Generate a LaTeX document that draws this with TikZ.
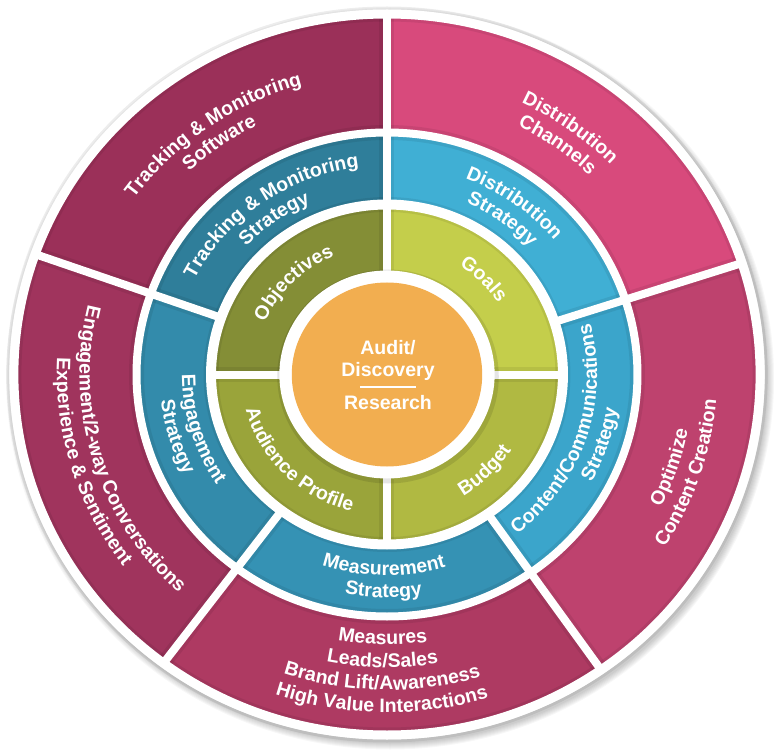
\documentclass[tikz,border=0pt]{standalone}
\usepackage{fontspec}
\setmainfont{Liberation Sans}
\usetikzlibrary{decorations.text}
\definecolor{softseg}{HTML}{9B3059}
\definecolor{chanseg}{HTML}{D84A7C}
\definecolor{optseg}{HTML}{BE426E}
\definecolor{measseg}{HTML}{AE3A62}
\definecolor{convseg}{HTML}{A0345D}
\definecolor{trackseg}{HTML}{2F7E9A}
\definecolor{distseg}{HTML}{40AFD4}
\definecolor{contseg}{HTML}{3BA5CB}
\definecolor{mstrseg}{HTML}{3592B4}
\definecolor{engseg}{HTML}{338BAB}
\definecolor{objseg}{HTML}{848E36}
\definecolor{goalseg}{HTML}{C4CE4B}
\definecolor{budgseg}{HTML}{B0B942}
\definecolor{audseg}{HTML}{9AA43A}
\definecolor{auditcol}{HTML}{F2AE50}
\newcommand{\lblfont}{\fontsize{19.5}{22}\selectfont\bfseries}
\tikzset{
  gapline/.style    = {white, line width=8pt},
  gapshade/.style   = {black, opacity=0.07, line width=15pt},
  ringtext/.style   = {decorate, decoration={text along path, text align=center,
                       text color=white, text={|\lblfont|#1}}},
  centertext/.style = {text=white, font=\lblfont, align=center, inner sep=0pt},
}
% sector of a ring: colour, inner r, outer r, start angle, end angle
\newcommand{\ringseg}[5]{%
  \fill[#1] (#4:#2) arc[start angle=#4, end angle=#5, radius=#2]
    -- (#5:#3) arc[start angle=#5, end angle=#4, radius=#3] -- cycle;}
% one line of text on an arc: radius, start angle, end angle, text
\newcommand{\arctext}[4]{%
  \path[ringtext={#4}] (#2:#1) arc[start angle=#2, end angle=#3, radius=#1];}

\begin{document}
\begin{tikzpicture}[x=1pt, y=1pt]
  \useasboundingbox (-387,-380.5) rectangle (387,374.5);
  \begin{scope}[xscale=1.035]
    % --- disc and shadow ---
    \foreach \i in {0,...,6}
      \fill[black, opacity=0.03] (3,-4) circle (365+\i);
    \fill[white] (0,0) circle (365);

    % --- outer ring ---
    \ringseg{softseg}{242}{360}{90}{160.5}
    \ringseg{chanseg}{242}{360}{18}{90}
    \ringseg{optseg}{242}{360}{-55}{18}
    \ringseg{measseg}{242}{360}{-126.8}{-55}
    \ringseg{convseg}{242}{360}{160.5}{233.2}

    % --- strategy ring ---
    \ringseg{trackseg}{170}{242}{90}{160.5}
    \ringseg{distseg}{170}{242}{18}{90}
    \ringseg{contseg}{170}{242}{-55}{18}
    \ringseg{mstrseg}{170}{242}{-126.8}{-55}
    \ringseg{engseg}{170}{242}{160.5}{233.2}

    % --- planning ring ---
    \ringseg{objseg}{100}{170}{90}{180}
    \ringseg{goalseg}{100}{170}{0}{90}
    \ringseg{budgseg}{100}{170}{-90}{0}
    \ringseg{audseg}{100}{170}{180}{270}

    % --- shaded white gaps ---
    \foreach \r in {360.5, 242, 170}
      \draw[gapshade] (0,0) circle (\r);
    \foreach \a in {90,18,-55,-126.8,160.5}
      \draw[gapshade] (\a:170) -- (\a:362);
    \foreach \a in {0,90,180,270}
      \draw[gapshade] (\a:98) -- (\a:170);
    \foreach \r/\w in {360.5/9, 242/8, 170/10}
      \draw[white, line width=\w pt] (0,0) circle (\r);
    \foreach \a in {90,18,-55,-126.8,160.5}
      \draw[gapline] (\a:170) -- (\a:362);
    \foreach \a in {0,90,180,270}
      \draw[gapline] (\a:98) -- (\a:170);

    % --- centre ---
    \fill[black, opacity=0.1] (1,-2) circle (107);
    \fill[white] (0,0) circle (104);
    \fill[auditcol] (0,0) circle (92);

    % --- outer ring labels ---
    \arctext{301}{160.5}{90}{Tracking {\&} Monitoring}
    \arctext{279}{160.5}{90}{Software}
    \arctext{301}{90}{18}{Distribution}
    \arctext{279}{90}{18}{Channels}
    \arctext{296}{-55}{18}{Optimize}
    \arctext{319}{-55}{18}{Content Creation}
    \arctext{270}{-126.8}{-55}{Measures}
    \arctext{293}{-126.8}{-55}{Leads/Sales}
    \arctext{315.5}{-126.8}{-55}{Brand Lift/Awareness}
    \arctext{338}{-126.8}{-55}{High Value Interactions}
    \arctext{297}{160.5}{233.2}{Engagement/2-way Conversations}
    \arctext{319}{160.5}{233.2}{Experience {\&} Sentiment}

    % --- strategy ring labels ---
    \arctext{209}{160.5}{90}{Tracking {\&} Monitoring}
    \arctext{187}{160.5}{90}{Strategy}
    \arctext{210}{90}{18}{Distribution}
    \arctext{188}{90}{18}{Strategy}
    \arctext{203}{-55}{18}{Content/Communications}
    \arctext{225}{-55}{18}{Strategy}
    \arctext{201}{-126.8}{-55}{Measurement}
    \arctext{223}{-126.8}{-55}{Strategy}
    \arctext{198}{160.5}{233.2}{Engagement}
    \arctext{220}{160.5}{233.2}{Strategy}

    % --- planning ring labels ---
    \arctext{129}{180}{90}{Objectives}
    \arctext{129}{90}{0}{Goals}
    \arctext{142}{-90}{0}{Budget}
    \arctext{141}{180}{270}{Audience Profile}
  \end{scope}

  % --- centre labels ---
  \node[centertext] (audit) at (1,14) {Audit/\\Discovery};
  \node[centertext] (research) at (1,-28) {Research};
  \draw[white, line width=2.5pt] ([xshift=-28pt, yshift=8pt]research.north)
    -- ([xshift=28pt, yshift=8pt]research.north);
\end{tikzpicture}
\end{document}
